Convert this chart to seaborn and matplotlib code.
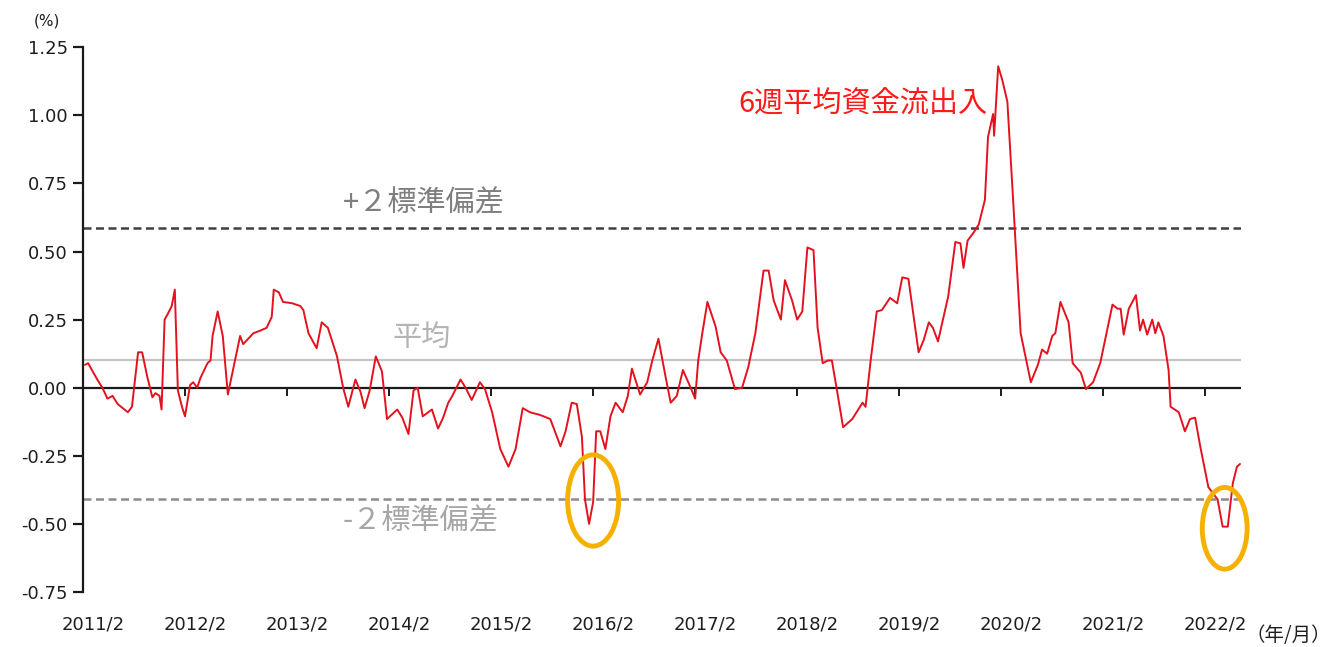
import numpy as np
import pandas as pd
import seaborn as sns
import matplotlib.pyplot as plt
import matplotlib.transforms as mtransforms
from matplotlib.patches import Ellipse

# decimal year (2011.08 = 2011/2) and 6-week average flow (%)
years = [
    2011.10, 2011.13, 2011.22, 2011.27, 2011.32, 2011.37, 2011.42, 2011.52, 2011.56, 2011.62,
    2011.66, 2011.71, 2011.76, 2011.79, 2011.83, 2011.85, 2011.88, 2011.91, 2011.95, 2011.98,
    2012.01, 2012.05, 2012.08, 2012.13, 2012.16, 2012.20, 2012.23, 2012.30, 2012.33, 2012.35,
    2012.40, 2012.45, 2012.50, 2012.55, 2012.62, 2012.65, 2012.70, 2012.75, 2012.82, 2012.88,
    2012.93, 2012.95, 2013.00, 2013.04, 2013.13, 2013.21, 2013.24, 2013.29, 2013.37, 2013.42,
    2013.48, 2013.57, 2013.63, 2013.68, 2013.75, 2013.80, 2013.84, 2013.89, 2013.95, 2014.01,
    2014.06, 2014.16, 2014.21, 2014.27, 2014.32, 2014.36, 2014.41, 2014.50, 2014.56, 2014.61,
    2014.66, 2014.70, 2014.78, 2014.83, 2014.89, 2014.97, 2015.02, 2015.09, 2015.17, 2015.25,
    2015.32, 2015.39, 2015.46, 2015.56, 2015.66, 2015.76, 2015.81, 2015.87, 2015.92, 2015.97,
    2016.00, 2016.04, 2016.08, 2016.11, 2016.15, 2016.20, 2016.25, 2016.30, 2016.37, 2016.42,
    2016.46, 2016.54, 2016.61, 2016.66, 2016.72, 2016.79, 2016.84, 2016.90, 2016.96, 2017.03,
    2017.08, 2017.11, 2017.15, 2017.20, 2017.28, 2017.33, 2017.39, 2017.47, 2017.54, 2017.60,
    2017.67, 2017.75, 2017.80, 2017.85, 2017.92, 2017.96, 2018.03, 2018.08, 2018.13, 2018.18,
    2018.24, 2018.28, 2018.33, 2018.38, 2018.42, 2018.47, 2018.53, 2018.62, 2018.72, 2018.75,
    2018.80, 2018.86, 2018.91, 2018.99, 2019.06, 2019.11, 2019.17, 2019.27, 2019.32, 2019.37,
    2019.41, 2019.46, 2019.56, 2019.63, 2019.68, 2019.71, 2019.75, 2019.81, 2019.86, 2019.92,
    2019.95, 2020.00, 2020.01, 2020.05, 2020.09, 2020.14, 2020.20, 2020.27, 2020.37, 2020.44,
    2020.48, 2020.53, 2020.58, 2020.61, 2020.66, 2020.74, 2020.78, 2020.86, 2020.91, 2020.98,
    2021.05, 2021.10, 2021.17, 2021.22, 2021.25, 2021.28, 2021.33, 2021.40, 2021.44, 2021.47,
    2021.51, 2021.56, 2021.59, 2021.62, 2021.67, 2021.72, 2021.74, 2021.82, 2021.88, 2021.93,
    2021.98, 2022.03, 2022.11, 2022.20, 2022.25, 2022.30, 2022.35, 2022.39, 2022.42,
]
flows = [
    0.084, 0.09, 0.03, 0.0, -0.04, -0.03, -0.06, -0.09, -0.07, 0.13,
    0.13, 0.04, -0.035, -0.02, -0.03, -0.08, 0.25, 0.27, 0.30, 0.36,
    -0.01, -0.07, -0.105, 0.01, 0.02, 0.0, 0.035, 0.09, 0.10, 0.19,
    0.28, 0.19, -0.025, 0.065, 0.19, 0.16, 0.18, 0.20, 0.21, 0.22,
    0.26, 0.36, 0.35, 0.315, 0.31, 0.30, 0.285, 0.20, 0.145, 0.24,
    0.22, 0.115, 0.0, -0.07, 0.03, -0.015, -0.075, -0.01, 0.115, 0.06,
    -0.115, -0.08, -0.11, -0.17, -0.01, 0.0, -0.105, -0.08, -0.15, -0.11,
    -0.055, -0.03, 0.03, 0.0, -0.045, 0.02, -0.005, -0.09, -0.225, -0.29,
    -0.225, -0.075, -0.09, -0.10, -0.115, -0.215, -0.16, -0.055, -0.06, -0.18,
    -0.41, -0.50, -0.42, -0.16, -0.16, -0.225, -0.105, -0.055, -0.09, -0.03,
    0.07, -0.025, 0.02, 0.10, 0.18, 0.04, -0.055, -0.03, 0.065, 0.005,
    -0.04, 0.10, 0.20, 0.315, 0.225, 0.13, 0.10, -0.005, 0.0, 0.075,
    0.20, 0.43, 0.43, 0.32, 0.25, 0.395, 0.32, 0.25, 0.28, 0.515,
    0.505, 0.22, 0.09, 0.10, 0.10, -0.01, -0.145, -0.115, -0.055, -0.07,
    0.10, 0.28, 0.285, 0.33, 0.31, 0.405, 0.40, 0.13, 0.175, 0.24,
    0.22, 0.17, 0.335, 0.535, 0.53, 0.44, 0.54, 0.57, 0.60, 0.69,
    0.92, 1.005, 0.925, 1.18, 1.13, 1.05, 0.665, 0.20, 0.02, 0.085,
    0.14, 0.125, 0.19, 0.20, 0.315, 0.24, 0.09, 0.055, -0.005, 0.02,
    0.09, 0.18, 0.305, 0.29, 0.29, 0.195, 0.29, 0.34, 0.21, 0.25,
    0.195, 0.25, 0.20, 0.24, 0.19, 0.065, -0.07, -0.09, -0.16, -0.115,
    -0.11, -0.215, -0.365, -0.41, -0.51, -0.51, -0.35, -0.29, -0.28,
]

mean_level = 0.10
plus_2sd = 0.585
minus_2sd = -0.41

tick_years = [2011.08 + k for k in range(12)]
tick_labels = [f"{2011 + k}/2" for k in range(12)]

df = pd.DataFrame({"year": years, "flow": flows})

sns.set_theme(style="white")
plt.rcParams["font.family"] = ["Noto Sans CJK JP", "DejaVu Sans"]

fig = plt.figure(figsize=(13.32, 6.47), dpi=100)
ax = fig.add_axes([0.0623, 0.085, 0.8694, 0.842])

# reference lines
ax.axhline(plus_2sd, color="#404040", lw=1.8, ls=(0, (3.2, 1.8)), zorder=1)
ax.axhline(minus_2sd, color="#8c8c8c", lw=1.8, ls=(0, (3.2, 1.8)), zorder=1)
ax.axhline(mean_level, color="#c4c4c4", lw=1.6, zorder=1)
ax.axhline(0, color="#1a1a1a", lw=1.6, zorder=2)

sns.lineplot(data=df, x="year", y="flow", color="#e3121e", lw=1.4, ax=ax, zorder=3)

# highlight circles
for cx, cy, w, h in [(2016.08, -0.414, 0.50, 0.335), (2022.27, -0.516, 0.44, 0.30)]:
    ax.add_patch(Ellipse((cx, cy), w, h, fill=False, ec="#f5b000", lw=3.5,
                         zorder=4, clip_on=False))

ax.set_xlim(2011.08, 2022.43)
ax.set_ylim(-0.75, 1.25)
ax.set_yticks([-0.75, -0.5, -0.25, 0, 0.25, 0.5, 0.75, 1.0, 1.25])
ax.set_yticklabels([f"{v:.2f}" for v in ax.get_yticks()], family="DejaVu Sans",
                   fontsize=13, color="#1e1e1e")
ax.set_xlabel("")
ax.set_ylabel("")

for s in ["top", "right"]:
    ax.spines[s].set_visible(False)
ax.spines["left"].set_color("#1a1a1a")
ax.spines["left"].set_linewidth(1.6)
ax.spines["bottom"].set_position(("data", 0))
ax.spines["bottom"].set_visible(False)
ax.tick_params(axis="y", direction="out", length=7, width=1.6, color="#1a1a1a", pad=4, left=True)

# x ticks hang from the zero line, labels sit at the bottom
ax.set_xticks(tick_years)
ax.tick_params(axis="x", direction="out", length=6, width=1.4, color="#1a1a1a",
               bottom=True, top=False, labelbottom=False, labeltop=False)
lab_tf = mtransforms.blended_transform_factory(ax.transData, ax.transAxes) + \
    mtransforms.ScaledTranslation(0.10, 0, fig.dpi_scale_trans)
for ty, tl in zip(tick_years, tick_labels):
    ax.text(ty, -0.06, tl, transform=lab_tf, ha="center", va="center",
            fontsize=13, family="DejaVu Sans", color="#1e1e1e")

# annotations
ax.text(2014.42, 0.676, "+２標準偏差", ha="center", va="center", fontsize=21, color="#7f7f7f")
ax.text(2014.40, 0.183, "平均", ha="center", va="center", fontsize=21, color="#b4b4b4")
ax.text(2014.39, -0.492, "-２標準偏差", ha="center", va="center", fontsize=21, color="#a6a6a6")
ax.text(2018.72, 1.04, "6週平均資金流出入", ha="center", va="center", fontsize=21, color="#ff1a1a")
fig.text(0.025, 0.968, "(%)", fontsize=11, color="#1e1e1e", va="center", family="DejaVu Sans")
fig.text(0.999, 0.018, "（年/月）", fontsize=14, color="#1e1e1e", ha="right", va="center")

fig.savefig("out.png", dpi=100)
